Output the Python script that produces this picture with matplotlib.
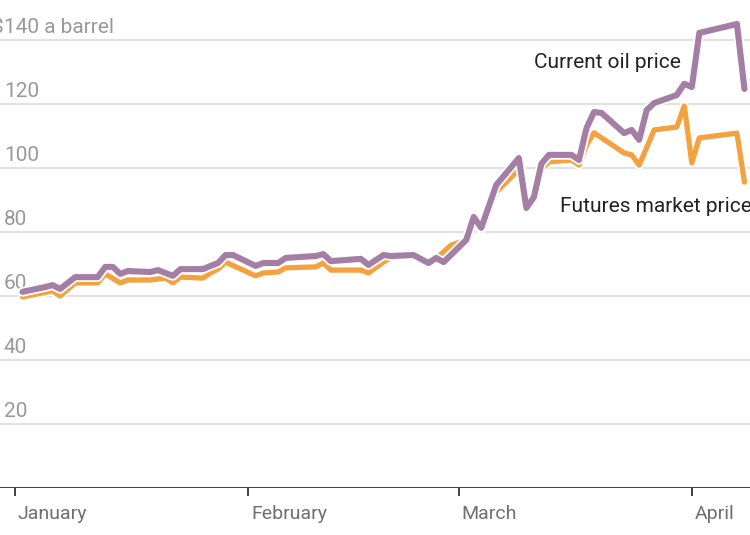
import matplotlib
matplotlib.use("Agg")
import matplotlib.pyplot as plt
import matplotlib.patheffects as pe
from matplotlib import font_manager

# ---- data ----
current_days = [1, 4, 5, 6, 8, 11, 12, 13, 14, 15, 18, 19, 21, 22, 25, 26, 27, 28, 29,
                32, 33, 35, 36, 40, 41, 42, 46, 47, 49, 50, 53, 55, 56, 57,
                60, 61, 62, 64, 67, 68, 69, 70, 71, 74, 75, 76, 77, 78, 81, 82, 83, 84, 85,
                88, 89, 90, 91, 96, 97]
current_price = [61.3, 62.8, 63.4, 62.2, 65.9, 65.9, 69.1, 69.1, 66.9, 67.8, 67.5, 68.1, 66.3, 68.4, 68.4, 69.4, 70.3, 72.8, 72.8,
                 69.4, 70.3, 70.3, 71.9, 72.5, 73.1, 70.9, 71.6, 69.7, 72.8, 72.5, 72.8, 70.3, 71.9, 70.6,
                 77.5, 84.7, 81.3, 94.7, 103.1, 87.5, 90.9, 101.3, 104.1, 104.1, 102.5, 112.5, 117.5, 117.2, 110.9, 111.9, 108.8, 118.1, 120.3,
                 122.8, 126.3, 125.3, 142.2, 145.0, 124.7]

futures_days = [1, 5, 6, 8, 11, 12, 14, 15, 18, 20, 21, 22, 25, 26, 27, 28,
                32, 33, 35, 36, 40, 41, 42, 46, 47, 49, 50, 53, 55, 56, 58,
                60, 61, 62, 64, 67, 68, 69, 70, 71, 74, 75, 76, 77, 81, 82, 83, 85,
                88, 89, 90, 91, 96, 97]
futures_price = [59.7, 61.6, 60.0, 64.1, 64.1, 66.9, 64.1, 65.0, 65.0, 65.6, 64.1, 65.9, 65.6, 67.2, 68.4, 70.6,
                 66.3, 67.2, 67.5, 68.8, 69.1, 70.3, 68.1, 68.1, 67.2, 70.6, 72.0, 72.3, 70.0, 71.7, 75.9,
                 77.5, 84.0, 80.6, 92.5, 99.5, 87.5, 90.5, 99.5, 101.9, 102.5, 100.9, 107.2, 111.0, 104.7, 104.1, 100.9, 111.9,
                 112.8, 119.4, 101.6, 109.4, 110.9, 95.6]

month_ticks = [0, 31, 59, 90]
month_labels = ["January", "February", "March", "April"]
y_ticks = [20, 40, 60, 80, 100, 120, 140]

# ---- style ----
avail = {f.name for f in font_manager.fontManager.ttflist}
fam = "Liberation Sans Narrow" if "Liberation Sans Narrow" in avail else "Roboto"
plt.rcParams['font.family'] = [fam, 'DejaVu Sans']

PURPLE = "#a57ea6"
ORANGE = "#f4a23f"

fig = plt.figure(figsize=(7.5, 5.35), dpi=100)
ax = fig.add_axes([0, 47 / 535, 1, 480 / 535])
ax.set_xlim(-15 / 7.52, 735 / 7.52)
ax.set_ylim(0, 150)

for v in y_ticks:
    ax.axhline(v, color="#e2e2e2", lw=1.6, zorder=1)
ax.axhline(0, color="#333333", lw=1.3, zorder=5)

ax.plot(futures_days, futures_price, color=ORANGE, lw=3.8, solid_joinstyle="round",
        solid_capstyle="round", zorder=3, path_effects=[pe.Stroke(linewidth=6.3, foreground="white"), pe.Normal()])
ax.plot(current_days, current_price, color=PURPLE, lw=4.4, solid_joinstyle="round",
        solid_capstyle="round", zorder=4, path_effects=[pe.Stroke(linewidth=7, foreground="white"), pe.Normal()])

for s in ax.spines.values():
    s.set_visible(False)
ax.set_yticks([])
ax.set_xticks(month_ticks)
ax.set_xticklabels([])
ax.tick_params(axis="x", length=6, width=1.3, color="#333333", direction="out")

for t, lab in zip(month_ticks, month_labels):
    ax.annotate(lab, xy=(t, 0), xytext=(2, -12.5), textcoords="offset points",
                ha="left", va="top", fontsize=14, color="#6f6f6f")

for v in y_ticks:
    txt = "140 a barrel" if v == 140 else str(v)
    ax.annotate(txt, xy=(0, v), xycoords=("axes fraction", "data"), xytext=(4, 3),
                textcoords="offset pixels", ha="left", va="bottom", fontsize=15, color="#999999")
ax.annotate("$", xy=(0, 140), xycoords=("axes fraction", "data"), xytext=(4, 3),
            textcoords="offset pixels", ha="right", va="bottom", fontsize=15, color="#999999")

ax.text(88.5, 133, "Current oil price", ha="right", va="center", fontsize=15, color="#222222", zorder=6)
ax.text(72.5, 88, "Futures market price", ha="left", va="center", fontsize=15, color="#222222", zorder=6)

fig.savefig("out.png", dpi=100)
